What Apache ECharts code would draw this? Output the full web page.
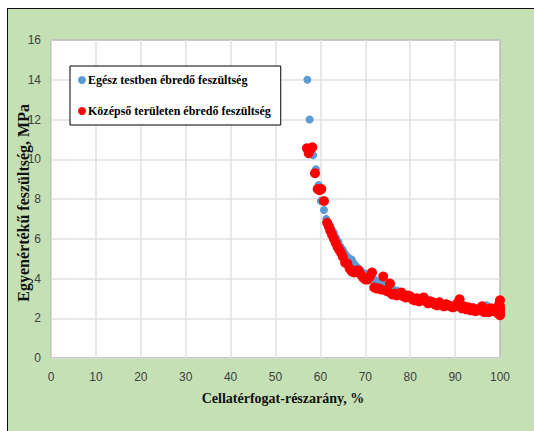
<!DOCTYPE html>
<html>
<head>
<meta charset="UTF-8">
<title>Feszültség</title>
<script src="https://cdn.jsdelivr.net/npm/echarts@6/dist/echarts.min.js"></script>
<style>
  html, body { margin: 0; padding: 0; background: #fff; }
  #frame { position: absolute; left: 7px; top: 8px; width: 560px; height: 460px;
           background: #c5e0b4; border: 1.5px solid #111; }
  #main { position: absolute; left: 0; top: 0; width: 534px; height: 431px; }
</style>
</head>
<body>
<div id="frame"></div>
<div id="main"></div>
<script>
// Egész testben ébredő feszültség (blue)
var wholeX = [57.1, 57.6, 58.4, 59.0, 59.6, 60.1, 60.8, 61.3, 62.0, 62.5, 63.0, 63.5, 64.0, 64.5, 65.0, 65.5,
  66.0, 66.5, 67.0, 67.5, 68.0, 68.5, 69.0, 70.0, 71.0, 72.0, 73.0, 74.0, 75.0, 76.0, 77.0, 78.0, 79.0, 80.0,
  82.0, 84.0, 86.0, 88.0, 90.0, 92.0, 94.0, 96.0, 97.0, 98.0, 100.0];
var wholeY = [14.0, 12.0, 10.2, 9.5, 8.7, 7.9, 7.45, 7.0, 6.7, 6.5, 6.3, 6.05, 5.85, 5.6, 5.45, 5.25,
  5.1, 5.0, 4.95, 4.75, 4.6, 4.5, 4.4, 4.25, 4.1, 3.95, 3.85, 3.7, 3.6, 3.5, 3.4, 3.3, 3.2, 3.15,
  3.0, 2.9, 2.8, 2.75, 2.7, 2.6, 2.55, 2.5, 2.65, 2.5, 2.45];

// Középső területen ébredő feszültség (red)
var midX = [57.0, 57.4, 57.6, 58.2, 58.8, 59.4, 59.8, 60.2, 60.8, 61.5, 61.9, 62.2, 62.6, 63.0, 63.4, 63.8,
  64.2, 64.6, 65.0, 65.5, 66.0, 66.5, 67.0, 67.5, 68.0, 68.5, 69.0, 69.5, 70.0, 70.5, 71.0, 71.5, 72.0, 72.5,
  73.0, 73.5, 74.0, 74.5, 75.0, 75.5, 76.0, 76.5, 77.0, 77.5, 78.0, 78.5, 79.0, 79.5, 80.0, 80.5, 81.0, 81.5,
  82.0, 82.5, 83.0, 83.5, 84.0, 84.5, 85.0, 85.5, 86.0, 86.5, 87.0, 87.5, 88.0, 88.5, 89.0, 89.5, 90.0, 90.5,
  91.0, 91.5, 92.0, 92.5, 93.0, 93.5, 94.0, 94.5, 95.0, 95.5, 96.0, 96.5, 97.0, 97.5, 98.0, 98.5, 99.0, 99.5,
  99.8, 100.0, 100.0, 100.0, 100.0, 100.0];
var midY = [10.55, 10.3, 10.5, 10.6, 9.3, 8.5, 8.45, 8.5, 7.9, 6.8, 6.6, 6.4, 6.2, 6.0, 5.8, 5.6,
  5.45, 5.3, 5.1, 4.8, 4.75, 4.5, 4.35, 4.3, 4.4, 4.4, 4.2, 4.05, 3.95, 3.95, 4.1, 4.3, 3.55, 3.5,
  3.5, 3.45, 4.1, 3.4, 3.35, 3.75, 3.2, 3.25, 3.15, 3.2, 3.3, 3.1, 3.05, 3.15, 3.1, 2.95, 2.9, 3.0,
  2.85, 2.95, 3.05, 2.85, 2.75, 2.85, 2.8, 2.7, 2.65, 2.8, 2.7, 2.6, 2.7, 2.65, 2.6, 2.55, 2.6, 2.75,
  2.95, 2.5, 2.6, 2.45, 2.55, 2.4, 2.5, 2.35, 2.45, 2.4, 2.6, 2.3, 2.45, 2.3, 2.5, 2.35, 2.4, 2.25,
  2.7, 2.9, 2.6, 2.3, 2.15, 2.45];

var seriesNames = ['Egész testben ébredő feszültség', 'Középső területen ébredő feszültség'];
var xTitle = 'Cellatérfogat-részarány, %';
var yTitle = 'Egyenértékű feszültség, MPa';

function pairs(xs, ys) {
  return xs.map(function (x, i) { return [x, ys[i]]; });
}

var chart = echarts.init(document.getElementById('main'), null, { renderer: 'svg' });

var labelFont = "'Liberation Sans Narrow', 'Liberation Sans', sans-serif";
var titleFont = "'Liberation Serif', serif";

var option = {
  backgroundColor: 'transparent',
  animation: false,
  grid: {
    left: 51, right: 34, top: 40, bottom: 73,
    outerBoundsMode: 'none',
    containLabel: false,
    show: true, backgroundColor: '#fff', borderColor: '#000', borderWidth: 1
  },
  // y tengely címe, kicsit lejjebb mint a rács közepe (mint az eredetin)
  graphic: [{
    type: 'text',
    left: 15, top: 104,
    rotation: Math.PI / 2,
    style: {
      text: yTitle,
      fontFamily: titleFont, fontSize: 16, fontWeight: 'bold', fill: '#111'
    }
  }],
  legend: {
    orient: 'vertical',
    left: 70, top: 66,
    backgroundColor: '#fff',
    borderColor: '#000', borderWidth: 1,
    padding: [8, 10, 8, 8],
    itemGap: 19,
    itemWidth: 8, itemHeight: 8,
    icon: 'circle',
    textStyle: { fontFamily: titleFont, fontSize: 12, fontWeight: 'bold', color: '#000', padding: [0, 0, 0, -3] },
    data: seriesNames
  },
  xAxis: {
    type: 'value',
    min: 0, max: 100, interval: 10,
    name: xTitle,
    nameLocation: 'middle',
    nameGap: 33,
    nameTextStyle: { fontFamily: titleFont, fontSize: 14, fontWeight: 'bold', color: '#111', padding: [0, 0, 0, 15] },
    axisLine: { show: true, lineStyle: { color: '#d9d9d9', width: 1 } },
    axisTick: { show: false },
    axisLabel: { fontFamily: labelFont, fontSize: 12, color: '#404040', margin: 13 },
    splitLine: { show: true, lineStyle: { color: '#e0e0e0', width: 1.5 } }
  },
  yAxis: {
    type: 'value',
    min: 0, max: 16, interval: 2,
    axisLine: { show: true, lineStyle: { color: '#d9d9d9', width: 1 } },
    axisTick: { show: false },
    axisLabel: { fontFamily: labelFont, fontSize: 12, color: '#404040', margin: 10 },
    splitLine: { show: true, lineStyle: { color: '#e0e0e0', width: 1.5 } }
  },
  series: [
    {
      name: seriesNames[0],
      type: 'scatter',
      symbolSize: 8,
      itemStyle: { color: '#5b9bd5', opacity: 1 },
      data: pairs(wholeX, wholeY)
    },
    {
      name: seriesNames[1],
      type: 'scatter',
      symbolSize: 10,
      itemStyle: { color: '#ff0000', opacity: 1 },
      data: pairs(midX, midY)
    }
  ]
};

chart.setOption(option);
</script>
</body>
</html>
